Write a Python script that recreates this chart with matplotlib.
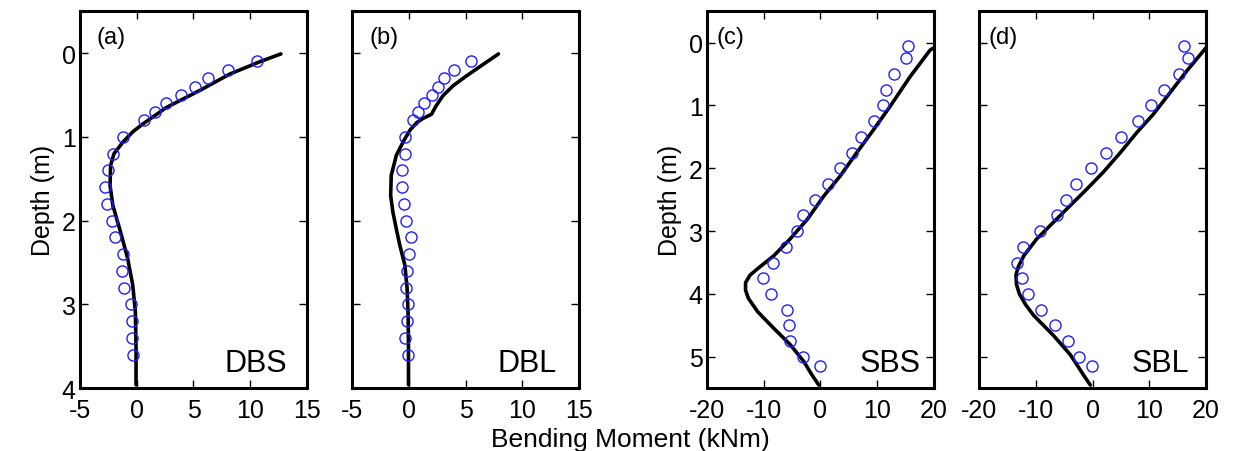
import numpy as np
import matplotlib.pyplot as plt

plt.rcParams['font.family'] = ['Liberation Sans', 'DejaVu Sans']
plt.rcParams['axes.unicode_minus'] = False

# ---------- measured (circles) ----------
depth_ab = [0.1, 0.2, 0.3, 0.4, 0.5, 0.6, 0.7, 0.8, 1.0, 1.2, 1.4, 1.6, 1.8,
            2.0, 2.2, 2.4, 2.6, 2.8, 3.0, 3.2, 3.4, 3.6]
meas_dbs = [10.6, 8.0, 6.3, 5.1, 3.9, 2.6, 1.6, 0.6, -1.2, -2.1, -2.5, -2.8, -2.6,
            -2.2, -1.9, -1.2, -1.3, -1.1, -0.5, -0.4, -0.4, -0.3]
meas_dbl = [5.5, 4.0, 3.1, 2.6, 2.0, 1.35, 0.8, 0.4, -0.35, -0.35, -0.6, -0.6, -0.4,
            -0.25, 0.2, 0.03, -0.15, -0.25, -0.05, -0.2, -0.35, -0.1]

depth_cd = [0.05, 0.25, 0.5, 0.75, 1.0, 1.25, 1.5, 1.75, 2.0, 2.25, 2.5, 2.75, 3.0,
            3.25, 3.5, 3.75, 4.0, 4.25, 4.5, 4.75, 5.0, 5.15]
meas_sbs = [15.5, 15.0, 12.9, 11.5, 11.05, 9.35, 7.2, 5.5, 3.45, 1.3, -0.9, -3.0, -4.2,
            -6.1, -8.4, -10.1, -8.8, -5.85, -5.6, -5.3, -3.0, 0.0]
meas_sbl = [16.1, 16.8, 15.3, 12.5, 10.3, 8.0, 5.0, 2.4, -0.2, -2.9, -4.6, -6.2, -9.3,
            -12.3, -13.4, -12.4, -11.3, -9.1, -6.6, -4.3, -2.4, -0.05]

# ---------- computed (lines) ----------
calc_dbs_d = [0.01, 0.1, 0.25, 0.45, 0.65, 0.85, 0.94, 1.06, 1.2, 1.34, 1.58, 1.82,
              2.1, 2.45, 2.77, 3.09, 3.52, 3.96]
calc_dbs_m = [12.7, 10.9, 8.2, 5.5, 2.6, 0.5, -0.35, -1.2, -2.0, -2.3, -2.35, -2.1,
              -1.5, -0.8, -0.35, -0.12, -0.06, -0.06]

calc_dbl_d = [0.01, 0.13, 0.27, 0.39, 0.51, 0.63, 0.73, 0.78, 0.83, 0.92, 1.06, 1.22,
              1.46, 1.7, 1.9, 2.1, 2.29, 2.53, 2.81, 3.13, 3.52, 3.96]
calc_dbl_m = [7.9, 6.6, 5.1, 3.9, 3.0, 2.4, 2.0, 1.25, 0.7, 0.1, -0.5, -1.1,
              -1.55, -1.6, -1.4, -1.1, -0.8, -0.35, -0.15, -0.06, -0.03, -0.03]

calc_sbs_d = [0.08, 0.12, 0.54, 1.01, 1.38, 1.75, 2.12, 2.44, 2.81, 3.12, 3.39, 3.6,
              3.7, 3.82, 3.94, 4.07, 4.28, 4.55, 4.81, 5.08, 5.29, 5.45]
calc_sbs_m = [20.0, 19.3, 15.8, 12.3, 9.4, 6.4, 3.5, 0.6, -2.3, -5.3, -8.2, -11.1,
              -12.4, -13.2, -13.2, -12.7, -11.1, -8.2, -5.3, -2.9, -1.5, -0.3]

calc_sbl_d = [0.08, 0.45, 0.79, 1.14, 1.43, 1.75, 2.06, 2.33, 2.59, 2.86, 3.12, 3.39,
              3.57, 3.7, 3.85, 4.0, 4.17, 4.34, 4.66, 4.97, 5.29, 5.45]
calc_sbl_m = [20.0, 16.6, 13.7, 10.7, 7.8, 4.9, 1.9, -1.0, -3.9, -6.9, -9.8, -12.1,
              -13.1, -13.5, -13.4, -12.9, -11.8, -10.4, -6.9, -3.9, -1.6, -0.4]

panels = [
    ("(a)", "DBS", depth_ab, meas_dbs, calc_dbs_d, calc_dbs_m, 0.0648, 0.075, 0.912),
    ("(b)", "DBL", depth_ab, meas_dbl, calc_dbl_d, calc_dbl_m, 0.2853, 0.075, 0.903),
    ("(c)", "SBS", depth_cd, meas_sbs, calc_sbs_d, calc_sbs_m, 0.5729, 0.044, 0.94),
    ("(d)", "SBL", depth_cd, meas_sbl, calc_sbl_d, calc_sbl_m, 0.7934, 0.04, 0.925),
]

fig = plt.figure(figsize=(12.34, 4.52), dpi=100)

for i, (tag, name, md, mm, cd, cm, left, tx, nx) in enumerate(panels):
    ax = fig.add_axes([left, 0.139, 0.184, 0.834])
    ax.plot(cm, cd, color='black', lw=2.6, solid_capstyle='round', zorder=2)
    ax.plot(mm, md, 'o', mfc='none', mec='#1f1fff', ms=8, mew=1.0, zorder=3)

    if i < 2:
        ax.set_xlim(-5, 15)
        ax.set_xticks([-5, 0, 5, 10, 15])
        ax.set_ylim(4, -0.5)
        ax.set_yticks([0, 1, 2, 3, 4])
    else:
        ax.set_xlim(-20, 20)
        ax.set_xticks([-20, -10, 0, 10, 20])
        ax.set_ylim(5.5, -0.5)
        ax.set_yticks([0, 1, 2, 3, 4, 5])

    ax.tick_params(direction='in', top=True, right=True, length=6, width=1,
                   labelsize=18)
    ax.tick_params(axis='x', pad=7)
    ax.tick_params(axis='y', pad=3)
    if i in (1, 3):
        ax.tick_params(labelleft=False)
    else:
        ax.set_ylabel("Depth (m)", fontsize=18, labelpad=5)
    for sp in ax.spines.values():
        sp.set_linewidth(2.2)

    ax.text(tx, 0.96, tag, transform=ax.transAxes, ha='left', va='top', fontsize=17)
    ax.text(nx, 0.045, name, transform=ax.transAxes, ha='right', va='baseline',
            fontsize=22)

fig.text(0.5105, 0.01, "Bending Moment (kNm)", ha='center', va='baseline', fontsize=19)

fig.savefig("out.png", dpi=100)
